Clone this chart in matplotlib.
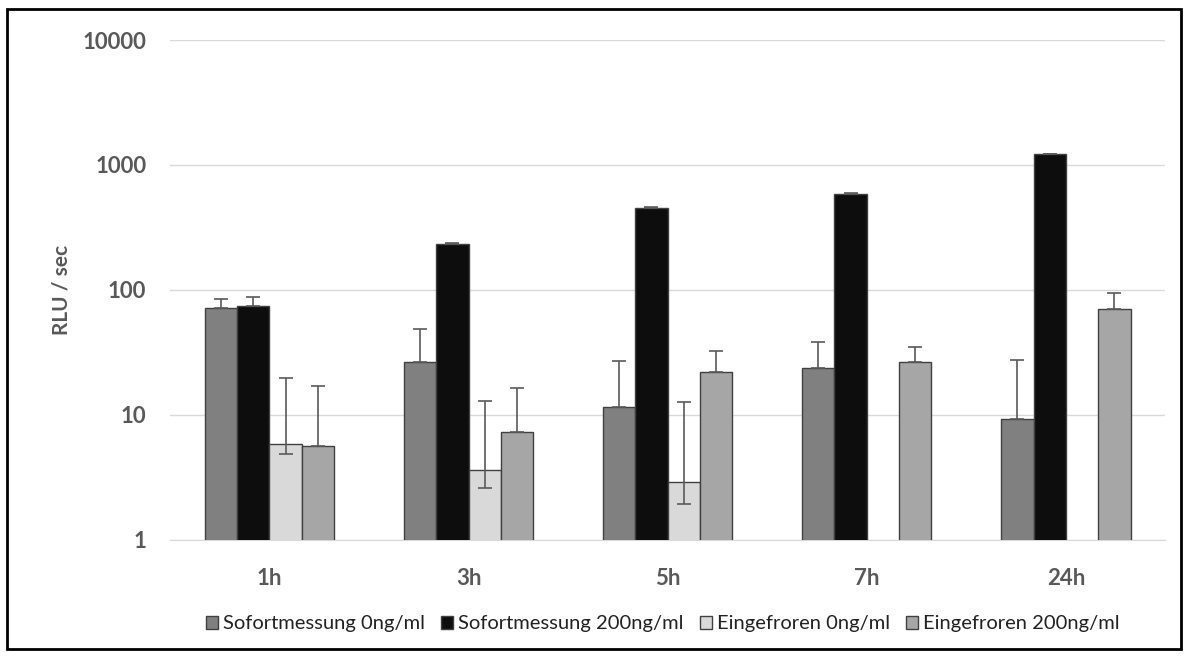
import numpy as np
import matplotlib
matplotlib.use("Agg")
import matplotlib.pyplot as plt
from matplotlib.patches import Rectangle

# values (RLU / sec), nan = no bar
categories = ["1h", "3h", "5h", "7h", "24h"]
series_names = ["Sofortmessung 0ng/ml", "Sofortmessung 200ng/ml",
                "Eingefroren 0ng/ml", "Eingefroren 200ng/ml"]
sofort_0 = [71.8, 26.4, 11.5, 23.6, 9.2]
sofort_200 = [74.5, 233, 456, 586, 1225]
einfr_0 = [5.9, 3.6, 2.9, np.nan, np.nan]
einfr_200 = [5.6, 7.3, 22.2, 26.7, 70.0]
# upper end of the error bar
sofort_0_hi = [84.7, 48.8, 27.2, 38.6, 27.5]
sofort_200_hi = [88, 236, 460, 592, 1232]
einfr_0_hi = [19.7, 13.0, 12.6, np.nan, np.nan]
einfr_200_hi = [17.1, 16.5, 32.5, 35.0, 94.0]
# lower end (only the Eingefroren 0ng/ml series shows one)
einfr_0_lo = [4.9, 2.6, 1.93, np.nan, np.nan]

colors = ["#808080", "#0d0d0d", "#d9d9d9", "#a6a6a6"]
values = [sofort_0, sofort_200, einfr_0, einfr_200]
highs = [sofort_0_hi, sofort_200_hi, einfr_0_hi, einfr_200_hi]
lows = [None, None, einfr_0_lo, None]

plt.rcParams["font.family"] = ["Lato", "DejaVu Sans"]

fig = plt.figure(figsize=(11.88, 6.56), dpi=100)
ax = fig.add_axes([0.143, 0.177, 0.838, 0.762])

x = np.arange(len(categories))
width = 0.1625
for i in range(4):
    v = np.array(values[i], dtype=float)
    pos = x + (i - 1.5) * width
    ax.bar(pos, v, width, color=colors[i], edgecolor="#404040",
           linewidth=1.0, label=series_names[i], zorder=3)
    up = np.array(highs[i], dtype=float) - v
    if lows[i] is None:
        lo = np.zeros_like(v)
    else:
        lo = v - np.array(lows[i], dtype=float)
    ok = ~np.isnan(v)
    ax.errorbar(pos[ok], v[ok], yerr=[lo[ok], up[ok]], fmt="none",
                ecolor="#5a5a5a", elinewidth=1.2, capsize=5, capthick=1.2,
                zorder=4)

ax.set_yscale("log")
ax.set_ylim(1, 10000)
ax.set_xlim(-0.5, len(categories) - 0.5)
ax.set_yticks([1, 10, 100, 1000, 10000])
ax.set_yticklabels(["1", "10", "100", "1000", "10000"])
ax.minorticks_off()
ax.yaxis.grid(True, color="#d9d9d9", linewidth=1.0, zorder=0)
ax.set_axisbelow(True)
for s in ["top", "right", "left"]:
    ax.spines[s].set_visible(False)
ax.spines["bottom"].set_color("#d9d9d9")
ax.set_xticks(x)
ax.set_xticklabels(categories)
ax.tick_params(axis="both", length=0, labelsize=16, labelcolor="#595959")
ax.tick_params(axis="x", pad=20)
ax.tick_params(axis="y", pad=17)
for lab in ax.get_xticklabels() + ax.get_yticklabels():
    lab.set_fontweight("bold")
ax.set_ylabel("RLU / sec", fontsize=15, fontweight="bold", color="#595959",
              labelpad=8)

ax.legend(loc="upper center", bbox_to_anchor=(0.495, -0.115), ncol=4,
          frameon=False, fontsize=14.5, handlelength=0.6, handleheight=0.6,
          handletextpad=0.25, columnspacing=0.8, labelcolor="#222222")

fig.patches.append(Rectangle((0.006, 0.01), 0.988, 0.976, transform=fig.transFigure,
                             fill=False, edgecolor="black", linewidth=2.0))

fig.savefig("out.png", dpi=100)
